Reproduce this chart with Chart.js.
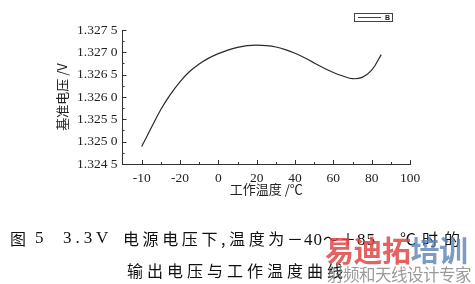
<!DOCTYPE html>
<html>
<head>
<meta charset="utf-8">
<script src="https://cdn.jsdelivr.net/npm/chart.js@4.4.1/dist/chart.umd.min.js"></script>
<style>
  html, body { margin: 0; padding: 0; background: #fff; }
  #wrap { position: relative; width: 475px; height: 284px; overflow: hidden; }
  #c { position: absolute; left: 0; top: 0; }
  .cap { position: absolute; font-family: "Noto Sans CJK SC", sans-serif; font-size: 16px; color: #111; white-space: nowrap; line-height: 20px; }
  .num { font-family: "Liberation Serif", serif; font-size: 17px; }
  .wm { position: absolute; font-family: "Noto Sans CJK SC", sans-serif; white-space: nowrap; font-weight: bold; }
  #wm1 { left: 325px; top: 228px; font-size: 29px; color: rgba(222, 70, 70, 0.85); letter-spacing: -0.5px; }
  #wm1 span { color: rgba(90, 130, 180, 0.8); }
  #wm2 { left: 327px; top: 262px; font-size: 16.5px; font-weight: normal; color: rgba(120, 120, 120, 0.75); letter-spacing: -0.5px; }
</style>
</head>
<body>
<div id="wrap">
  <canvas id="c" width="475" height="284"></canvas>
  <div class="cap" style="left:10px;top:228px;">图</div>
  <div class="cap num" style="left:35px;top:228px;">5</div>
  <div class="cap num" style="left:63px;top:228px;letter-spacing:4px;">3.3</div>
  <div class="cap num" style="left:96px;top:228px;">V</div>
  <div class="cap" style="left:123px;top:228px;letter-spacing:3.6px;">电源电压下,温度为</div>
  <div class="cap" style="left:287px;top:228px;letter-spacing:1px;">－<span class="num">40</span>～＋<span class="num">85</span></div>
  <div class="cap" style="left:400px;top:228px;letter-spacing:6px;">℃时的</div>
  <div class="cap" style="left:127px;top:260px;letter-spacing:4px;">输出电压与工作温度曲线</div>
  <div class="wm" id="wm1">易迪拓<span>培训</span></div>
  <div class="wm" id="wm2">射频和天线设计专家</div>
</div>
<script>
// ---- data ----
const temperature = [-40, -35, -30, -25, -20, -15, -10, -5, 0, 5, 10, 15, 20, 25, 30, 35, 40, 45, 50, 55, 60, 65, 70, 75, 80, 85];
const voltage = [1.32489, 1.32531, 1.32572, 1.32606, 1.32634, 1.32657, 1.32674, 1.32687, 1.32697, 1.32705, 1.32711, 1.32715, 1.32716, 1.32715, 1.32712, 1.32706, 1.32698, 1.32688, 1.32676, 1.32665, 1.32655, 1.32647, 1.32641, 1.32644, 1.32660, 1.32695];
const xTickValues = [-40, -20, 0, 20, 40, 60, 80, 100];
const xTickLabels = ['-10', '-20', '0', '20', '40', '60', '80', '100'];
const yTickValues = [1.3245, 1.3250, 1.3255, 1.3260, 1.3265, 1.3270, 1.3275];
const yTickLabels = ['1.324 5', '1.325 0', '1.325 5', '1.326 0', '1.326 5', '1.327 0', '1.327 5'];
const seriesName = 'B';

const tickFont = { family: '"Liberation Serif", serif', size: 13.5 };
const titleFont = { family: '"Noto Sans CJK SC", sans-serif', size: 13 };

const innerTicks = {
  id: 'innerTicks',
  afterDraw(chart) {
    const { ctx, scales: { x, y }, chartArea: a } = chart;
    ctx.save();
    ctx.strokeStyle = '#333';
    ctx.lineWidth = 1;
    ctx.beginPath();
    for (let v = -40; v <= 100; v += 10) {
      const px = Math.round(x.getPixelForValue(v)) + 0.5;
      const len = (v % 20 === 0) ? 4 : 2;
      ctx.moveTo(px, a.bottom);
      ctx.lineTo(px, a.bottom - len);
    }
    for (let i = 0; i < yTickValues.length; i++) {
      const py = Math.round(y.getPixelForValue(yTickValues[i])) + 0.5;
      ctx.moveTo(a.left, py);
      ctx.lineTo(a.left + 4, py);
      if (i < yTickValues.length - 1) {
        const pm = Math.round(y.getPixelForValue((yTickValues[i] + yTickValues[i + 1]) / 2)) + 0.5;
        ctx.moveTo(a.left, pm);
        ctx.lineTo(a.left + 2, pm);
      }
    }
    ctx.stroke();
    // legend box
    ctx.strokeStyle = '#444';
    ctx.strokeRect(354.5, 13.5, 38, 8);
    ctx.beginPath();
    ctx.moveTo(358, 17.5);
    ctx.lineTo(381, 17.5);
    ctx.stroke();
    ctx.fillStyle = '#222';
    ctx.font = 'bold 7px "Liberation Sans", sans-serif';
    ctx.textBaseline = 'middle';
    ctx.fillText(seriesName, 385, 18);
    ctx.restore();
  }
};

new Chart(document.getElementById('c'), {
  type: 'line',
  data: {
    datasets: [{
      label: seriesName,
      data: temperature.map((t, i) => ({ x: t, y: voltage[i] })),
      borderColor: '#2a2a2a',
      borderWidth: 1.2,
      pointRadius: 0,
      fill: false,
      tension: 0.4
    }]
  },
  options: {
    responsive: false,
    animation: false,
    layout: { padding: { top: 30, right: 65, bottom: 80, left: 0 } },
    plugins: { legend: { display: false }, tooltip: { enabled: false } },
    scales: {
      x: {
        type: 'linear',
        min: -50,
        max: 100,
        afterBuildTicks: s => { s.ticks = xTickValues.map(v => ({ value: v })); },
        afterFit: s => { s.height = 40; },
        grid: { display: false, drawTicks: false },
        border: { display: true, color: '#333', width: 1 },
        ticks: { font: tickFont, color: '#222', padding: 6, maxRotation: 0, autoSkip: false,
                 callback: (v, i) => xTickLabels[i] },
        title: { display: true, text: '工作温度 /℃', font: titleFont, color: '#222', padding: { top: 0, bottom: 7 } }
      },
      y: {
        type: 'linear',
        min: 1.3245,
        max: 1.3275,
        afterBuildTicks: s => { s.ticks = yTickValues.map(v => ({ value: v })); },
        afterFit: s => { s.width = 122.5; },
        grid: { display: false, drawTicks: false },
        border: { display: true, color: '#333', width: 1 },
        ticks: { font: tickFont, color: '#222', padding: 5, autoSkip: false,
                 callback: (v, i) => yTickLabels[i] },
        title: { display: true, text: '基准电压 /V', font: titleFont, color: '#222', padding: { top: 54, bottom: 0 } }
      }
    }
  },
  plugins: [innerTicks]
});
</script>
</body>
</html>
